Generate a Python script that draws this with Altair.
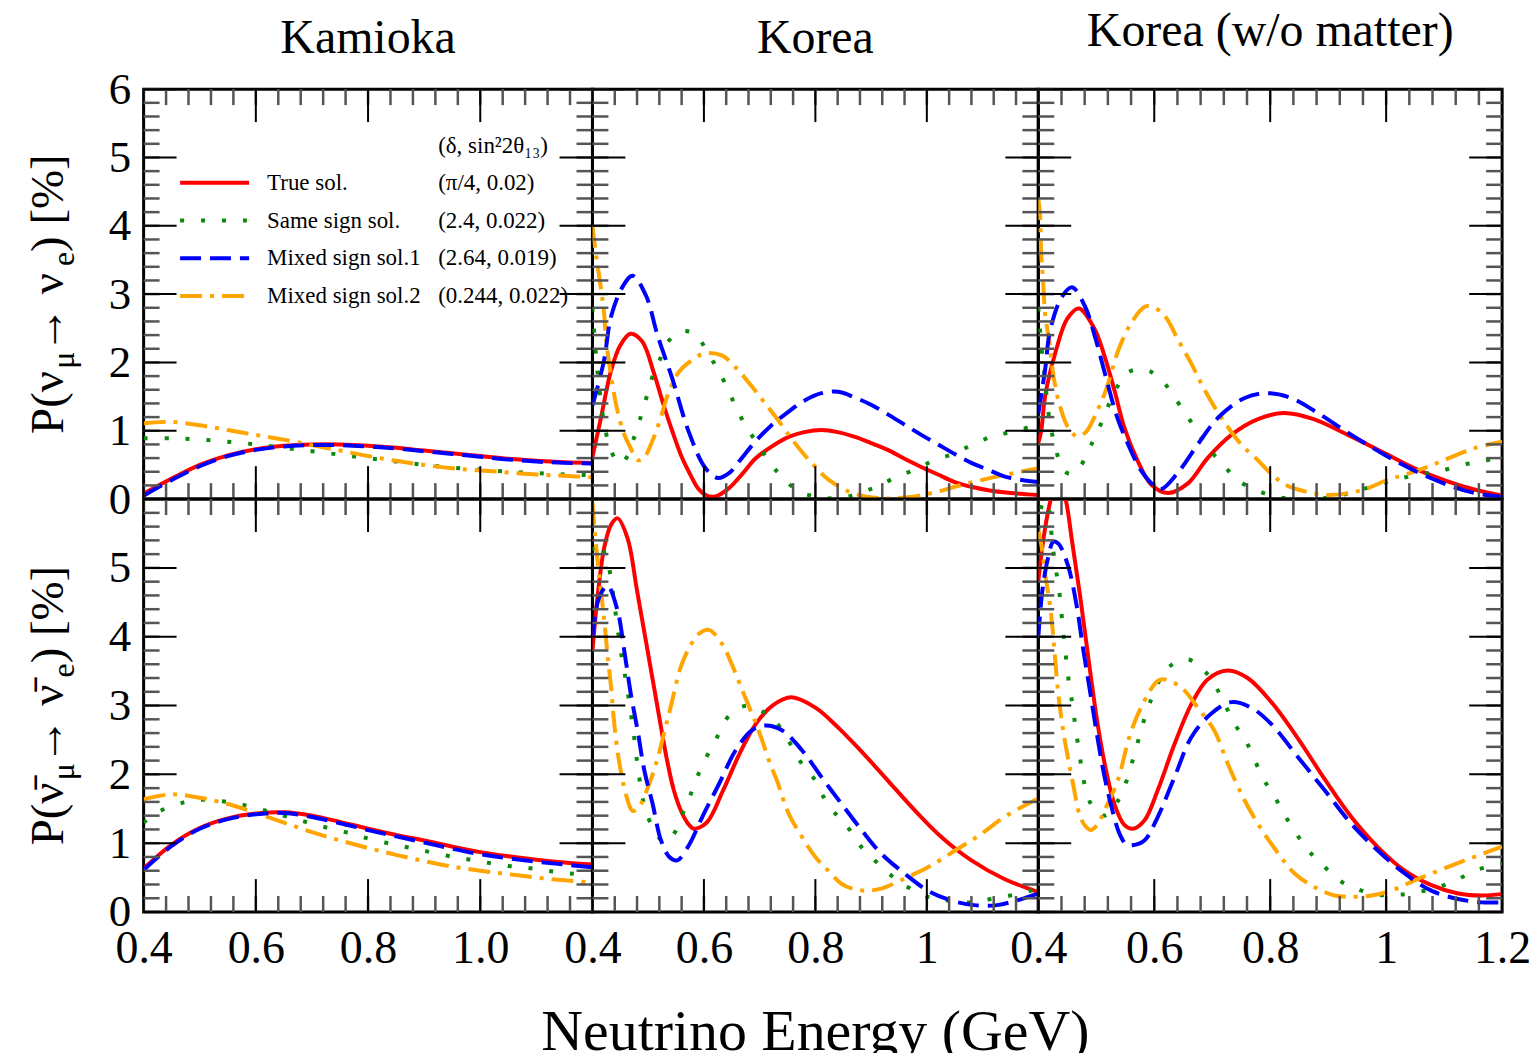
import altair as alt
import pandas as pd

FONT = "Liberation Serif"

COLUMNS = ["Kamioka", "Korea", "Korea (w/o matter)"]
SERIES = ["True sol.", "Same sign sol.", "Mixed sign sol.1", "Mixed sign sol.2"]
PARAMS = ["(π/4, 0.02)", "(2.4, 0.022)", "(2.64, 0.019)", "(0.244, 0.022)"]
PARAM_HEADER = "(δ, sin²2θ₁₃)"
X_TITLE = "Neutrino Energy (GeV)"

# ---- oscillation probabilities: (neutrino energy [GeV], probability [%]) ----
# Kamioka, neutrino
KAM_NU_TRUE = [(0.40, 0.08), (0.45, 0.30), (0.50, 0.50), (0.55, 0.64), (0.60, 0.73), (0.65, 0.78),
               (0.70, 0.80), (0.75, 0.80), (0.80, 0.78), (0.85, 0.75), (0.90, 0.71), (0.95, 0.67),
               (1.00, 0.63), (1.05, 0.59), (1.10, 0.56), (1.15, 0.54), (1.20, 0.53)]
KAM_NU_SAME = [(0.40, 0.89), (0.45, 0.89), (0.50, 0.87), (0.55, 0.84), (0.60, 0.80), (0.65, 0.75),
               (0.70, 0.70), (0.75, 0.65), (0.80, 0.60), (0.85, 0.55), (0.90, 0.50), (0.95, 0.46),
               (1.00, 0.43), (1.05, 0.40), (1.10, 0.38), (1.15, 0.36), (1.20, 0.35)]
KAM_NU_MIX1 = [(0.40, 0.05), (0.45, 0.28), (0.50, 0.48), (0.55, 0.63), (0.60, 0.72), (0.65, 0.77),
               (0.70, 0.79), (0.75, 0.79), (0.80, 0.77), (0.85, 0.74), (0.90, 0.70), (0.95, 0.66),
               (1.00, 0.62), (1.05, 0.58), (1.10, 0.55), (1.15, 0.53), (1.20, 0.52)]
KAM_NU_MIX2 = [(0.40, 1.11), (0.45, 1.13), (0.50, 1.08), (0.55, 1.01), (0.60, 0.94), (0.65, 0.87),
               (0.70, 0.79), (0.75, 0.71), (0.80, 0.63), (0.85, 0.56), (0.90, 0.50), (0.95, 0.45),
               (1.00, 0.42), (1.05, 0.39), (1.10, 0.36), (1.15, 0.34), (1.20, 0.32)]

# Korea, neutrino
KOR_NU_TRUE = [(0.40, 0.62), (0.415, 1.18), (0.433, 1.87), (0.45, 2.25), (0.468, 2.42), (0.489, 2.31),
               (0.51, 1.85), (0.528, 1.37), (0.543, 1.00), (0.56, 0.62), (0.573, 0.40), (0.59, 0.15),
               (0.605, 0.05), (0.621, 0.04), (0.645, 0.16), (0.67, 0.38), (0.692, 0.59), (0.72, 0.76),
               (0.752, 0.91), (0.78, 0.98), (0.811, 1.01), (0.84, 0.98), (0.871, 0.91), (0.90, 0.82),
               (0.93, 0.72), (0.96, 0.59), (0.99, 0.47), (1.02, 0.36), (1.05, 0.25), (1.08, 0.18),
               (1.11, 0.13), (1.15, 0.09), (1.20, 0.06)]
KOR_NU_SAME = [(0.40, 2.80), (0.404, 2.35), (0.408, 1.95), (0.412, 1.65), (0.42, 1.15), (0.429, 0.82),
               (0.44, 0.60), (0.452, 0.52), (0.462, 0.62), (0.472, 0.84), (0.48, 1.02), (0.49, 1.30),
               (0.50, 1.57), (0.51, 1.85), (0.52, 2.02), (0.532, 2.26), (0.55, 2.42), (0.565, 2.46),
               (0.585, 2.41), (0.609, 2.11), (0.627, 1.87), (0.645, 1.57), (0.66, 1.30), (0.678, 1.03),
               (0.698, 0.79), (0.719, 0.52), (0.74, 0.33), (0.77, 0.11), (0.80, 0.04), (0.83, 0.01),
               (0.86, 0.04), (0.89, 0.12), (0.913, 0.19), (0.942, 0.31), (0.978, 0.43), (1.014, 0.57),
               (1.05, 0.67), (1.08, 0.79), (1.115, 0.91), (1.15, 0.98), (1.20, 1.09)]
KOR_NU_MIX1 = [(0.40, 1.37), (0.42, 2.00), (0.434, 2.69), (0.455, 3.12), (0.472, 3.27), (0.496, 2.98),
               (0.517, 2.39), (0.543, 1.77), (0.573, 0.98), (0.603, 0.45), (0.625, 0.31), (0.645, 0.38),
               (0.663, 0.55), (0.692, 0.84), (0.72, 1.07), (0.752, 1.28), (0.78, 1.44), (0.811, 1.55),
               (0.841, 1.57), (0.87, 1.49), (0.90, 1.38), (0.93, 1.24), (0.96, 1.09), (0.99, 0.94),
               (1.02, 0.80), (1.05, 0.66), (1.08, 0.53), (1.11, 0.43), (1.14, 0.33), (1.17, 0.28),
               (1.20, 0.25)]
KOR_NU_MIX2 = [(0.40, 4.00), (0.405, 3.66), (0.414, 3.15), (0.42, 2.79), (0.425, 2.30), (0.434, 1.77),
               (0.443, 1.36), (0.455, 0.99), (0.467, 0.77), (0.482, 0.57), (0.492, 0.60), (0.508, 0.86),
               (0.522, 1.18), (0.537, 1.57), (0.555, 1.86), (0.573, 2.00), (0.60, 2.13), (0.633, 2.10),
               (0.66, 1.90), (0.684, 1.67), (0.708, 1.42), (0.731, 1.18), (0.755, 0.91), (0.776, 0.69),
               (0.80, 0.47), (0.824, 0.28), (0.86, 0.11), (0.889, 0.04), (0.93, 0.01), (0.978, 0.04),
               (1.02, 0.11), (1.05, 0.18), (1.109, 0.30), (1.168, 0.40), (1.20, 0.45)]

# Korea without matter effect, neutrino
KWO_NU_TRUE = [(0.40, 0.82), (0.405, 1.00), (0.412, 1.52), (0.43, 2.16), (0.45, 2.64), (0.47, 2.79),
               (0.497, 2.49), (0.514, 2.10), (0.532, 1.57), (0.549, 1.03), (0.572, 0.55), (0.595, 0.21),
               (0.624, 0.09), (0.658, 0.23), (0.692, 0.60), (0.733, 0.94), (0.779, 1.17), (0.824, 1.26),
               (0.875, 1.17), (0.934, 0.94), (0.991, 0.70), (1.049, 0.45), (1.106, 0.26), (1.152, 0.14),
               (1.20, 0.05)]
KWO_NU_SAME = [(0.40, 2.80), (0.406, 2.18), (0.41, 1.88), (0.413, 1.62), (0.419, 1.18), (0.431, 0.70),
               (0.445, 0.41), (0.458, 0.37), (0.474, 0.50), (0.491, 0.79), (0.506, 1.06), (0.52, 1.35),
               (0.534, 1.61), (0.554, 1.85), (0.575, 1.90), (0.595, 1.86), (0.618, 1.69), (0.638, 1.45),
               (0.658, 1.20), (0.678, 0.94), (0.698, 0.70), (0.721, 0.48), (0.747, 0.26), (0.779, 0.12),
               (0.813, 0.03), (0.848, 0.00), (0.882, 0.00), (0.917, 0.05), (0.951, 0.12), (0.986, 0.22),
               (1.02, 0.29), (1.055, 0.36), (1.089, 0.40), (1.13, 0.50), (1.164, 0.55), (1.20, 0.62)]
KWO_NU_MIX1 = [(0.40, 1.25), (0.412, 1.91), (0.42, 2.45), (0.44, 2.95), (0.458, 3.10), (0.48, 2.83),
               (0.497, 2.40), (0.517, 1.77), (0.536, 1.20), (0.555, 0.80), (0.578, 0.41), (0.601, 0.19),
               (0.613, 0.15), (0.641, 0.39), (0.675, 0.80), (0.71, 1.19), (0.756, 1.48), (0.796, 1.55),
               (0.836, 1.48), (0.882, 1.26), (0.94, 0.94), (0.997, 0.65), (1.055, 0.39), (1.112, 0.19),
               (1.152, 0.09), (1.20, 0.03)]
KWO_NU_MIX2 = [(0.40, 4.40), (0.403, 4.15), (0.405, 3.59), (0.408, 3.23), (0.412, 2.69), (0.419, 2.31),
               (0.426, 1.81), (0.437, 1.37), (0.452, 1.04), (0.467, 0.92), (0.482, 0.98), (0.499, 1.24),
               (0.516, 1.58), (0.539, 2.20), (0.562, 2.60), (0.585, 2.82), (0.605, 2.78), (0.62, 2.66),
               (0.643, 2.30), (0.666, 1.95), (0.683, 1.66), (0.706, 1.32), (0.729, 1.03), (0.752, 0.78),
               (0.775, 0.60), (0.798, 0.40), (0.826, 0.21), (0.861, 0.11), (0.896, 0.06), (0.93, 0.08),
               (0.965, 0.15), (1.005, 0.29), (1.034, 0.36), (1.074, 0.48), (1.108, 0.60), (1.154, 0.75),
               (1.20, 0.84)]

# Kamioka, anti-neutrino
KAM_NB_TRUE = [(0.40, 0.63), (0.45, 0.98), (0.50, 1.22), (0.55, 1.36), (0.60, 1.43), (0.65, 1.45),
               (0.70, 1.40), (0.75, 1.31), (0.80, 1.21), (0.85, 1.12), (0.90, 1.04), (0.95, 0.95),
               (1.00, 0.87), (1.05, 0.81), (1.10, 0.76), (1.15, 0.72), (1.20, 0.69)]
KAM_NB_SAME = [(0.40, 1.30), (0.43, 1.47), (0.47, 1.59), (0.50, 1.63), (0.54, 1.61), (0.575, 1.56),
               (0.61, 1.49), (0.645, 1.41), (0.68, 1.33), (0.72, 1.24), (0.76, 1.16), (0.79, 1.09),
               (0.83, 1.01), (0.865, 0.95), (0.90, 0.89), (0.94, 0.82), (0.975, 0.77), (1.01, 0.72),
               (1.05, 0.67), (1.085, 0.64), (1.12, 0.60), (1.16, 0.56), (1.20, 0.53)]
KAM_NB_MIX1 = [(0.40, 0.61), (0.45, 0.96), (0.50, 1.21), (0.55, 1.35), (0.60, 1.42), (0.65, 1.44),
               (0.70, 1.38), (0.75, 1.29), (0.80, 1.19), (0.85, 1.10), (0.90, 1.01), (0.95, 0.92),
               (1.00, 0.84), (1.05, 0.78), (1.10, 0.73), (1.15, 0.69), (1.20, 0.65)]
KAM_NB_MIX2 = [(0.40, 1.64), (0.45, 1.71), (0.50, 1.66), (0.55, 1.57), (0.60, 1.44), (0.65, 1.30),
               (0.70, 1.16), (0.75, 1.04), (0.80, 0.93), (0.85, 0.83), (0.90, 0.74), (0.95, 0.66),
               (1.00, 0.60), (1.05, 0.55), (1.10, 0.50), (1.15, 0.46), (1.20, 0.43)]

# Korea, anti-neutrino
KOR_NB_TRUE = [(0.40, 3.80), (0.409, 4.57), (0.421, 5.29), (0.433, 5.62), (0.445, 5.72), (0.463, 5.43),
               (0.48, 4.67), (0.498, 3.84), (0.516, 3.01), (0.534, 2.20), (0.546, 1.77), (0.56, 1.45),
               (0.572, 1.28), (0.582, 1.21), (0.605, 1.30), (0.634, 1.76), (0.664, 2.30), (0.693, 2.73),
               (0.723, 3.00), (0.757, 3.12), (0.80, 2.97), (0.841, 2.68), (0.883, 2.33), (0.93, 1.91),
               (0.978, 1.48), (1.026, 1.09), (1.08, 0.75), (1.139, 0.48), (1.20, 0.29)]
KOR_NB_SAME = [(0.40, 5.25), (0.412, 5.38), (0.422, 5.20), (0.429, 5.03), (0.435, 4.74), (0.45, 3.84),
               (0.462, 3.26), (0.473, 2.65), (0.482, 2.07), (0.493, 1.55), (0.51, 1.20), (0.529, 1.02),
               (0.545, 1.12), (0.56, 1.40), (0.57, 1.57), (0.582, 1.84), (0.597, 2.13), (0.621, 2.50),
               (0.648, 2.88), (0.68, 3.00), (0.713, 2.87), (0.737, 2.68), (0.776, 2.15), (0.80, 1.91),
               (0.817, 1.64), (0.841, 1.38), (0.862, 1.19), (0.883, 0.94), (0.909, 0.73), (0.936, 0.53),
               (0.966, 0.36), (1.002, 0.22), (1.034, 0.17), (1.079, 0.14), (1.115, 0.19), (1.15, 0.24),
               (1.186, 0.31), (1.20, 0.33)]
KOR_NB_MIX1 = [(0.40, 3.99), (0.412, 4.57), (0.427, 4.74), (0.445, 4.38), (0.457, 3.80), (0.469, 3.16),
               (0.481, 2.64), (0.493, 2.06), (0.508, 1.57), (0.523, 1.04), (0.538, 0.80), (0.552, 0.75),
               (0.573, 0.97), (0.597, 1.38), (0.627, 1.86), (0.657, 2.35), (0.686, 2.64), (0.71, 2.71),
               (0.74, 2.64), (0.776, 2.35), (0.811, 1.96), (0.847, 1.57), (0.883, 1.19), (0.918, 0.85),
               (0.96, 0.56), (1.002, 0.31), (1.043, 0.17), (1.085, 0.10), (1.126, 0.10), (1.162, 0.17),
               (1.20, 0.27)]
KOR_NB_MIX2 = [(0.40, 5.95), (0.404, 5.54), (0.41, 5.04), (0.416, 4.61), (0.422, 4.17), (0.427, 3.74),
               (0.434, 3.22), (0.438, 2.83), (0.444, 2.39), (0.452, 2.00), (0.461, 1.68), (0.472, 1.47),
               (0.483, 1.52), (0.495, 1.72), (0.514, 2.15), (0.531, 2.68), (0.543, 3.07), (0.558, 3.55),
               (0.577, 3.89), (0.592, 4.05), (0.609, 4.10), (0.633, 3.89), (0.65, 3.60), (0.674, 3.12),
               (0.698, 2.64), (0.719, 2.15), (0.731, 1.91), (0.752, 1.43), (0.776, 1.09), (0.80, 0.80),
               (0.823, 0.60), (0.847, 0.41), (0.866, 0.34), (0.889, 0.31), (0.918, 0.34), (0.966, 0.51),
               (1.002, 0.65), (1.05, 0.89), (1.097, 1.13), (1.139, 1.38), (1.20, 1.65)]

# Korea without matter effect, anti-neutrino
KWO_NB_TRUE = [(0.40, 4.81), (0.411, 5.54), (0.422, 6.01), (0.434, 6.30), (0.447, 6.00), (0.458, 5.40),
               (0.472, 4.60), (0.487, 3.65), (0.502, 2.75), (0.517, 2.05), (0.532, 1.55), (0.548, 1.27),
               (0.563, 1.21), (0.583, 1.33), (0.606, 1.77), (0.635, 2.44), (0.664, 3.02), (0.692, 3.38),
               (0.727, 3.51), (0.761, 3.40), (0.802, 3.05), (0.848, 2.52), (0.894, 1.93), (0.94, 1.38),
               (0.986, 0.94), (1.032, 0.60), (1.078, 0.39), (1.124, 0.27), (1.164, 0.24), (1.20, 0.26)]
KWO_NB_SAME = [(0.40, 5.55), (0.408, 5.95), (0.415, 5.97), (0.421, 5.62), (0.429, 5.04), (0.435, 4.74),
               (0.442, 4.16), (0.446, 3.84), (0.454, 3.26), (0.46, 2.97), (0.464, 2.68), (0.47, 2.36),
               (0.475, 2.07), (0.481, 1.81), (0.49, 1.58), (0.50, 1.45), (0.512, 1.40), (0.523, 1.44),
               (0.537, 1.61), (0.552, 1.90), (0.572, 2.48), (0.592, 3.03), (0.624, 3.55), (0.658, 3.67),
               (0.687, 3.50), (0.707, 3.26), (0.739, 2.73), (0.759, 2.47), (0.788, 1.94), (0.808, 1.67),
               (0.825, 1.41), (0.845, 1.14), (0.865, 0.90), (0.888, 0.71), (0.914, 0.49), (0.945, 0.35),
               (0.986, 0.25), (1.02, 0.25), (1.055, 0.29), (1.089, 0.36), (1.121, 0.46), (1.152, 0.60),
               (1.20, 0.70)]
KWO_NB_MIX1 = [(0.40, 3.99), (0.407, 4.67), (0.417, 5.15), (0.426, 5.38), (0.435, 5.35), (0.451, 5.04),
               (0.466, 4.46), (0.477, 3.84), (0.489, 3.22), (0.50, 2.64), (0.512, 2.06), (0.525, 1.57),
               (0.54, 1.14), (0.552, 0.98), (0.562, 0.97), (0.583, 1.04), (0.606, 1.38), (0.635, 1.96),
               (0.664, 2.54), (0.698, 2.88), (0.733, 3.05), (0.767, 2.97), (0.802, 2.73), (0.848, 2.25),
               (0.894, 1.77), (0.94, 1.28), (0.986, 0.89), (1.032, 0.56), (1.078, 0.31), (1.124, 0.19),
               (1.164, 0.14), (1.20, 0.14)]
KWO_NB_MIX2 = [(0.40, 5.55), (0.405, 5.35), (0.412, 4.90), (0.42, 4.47), (0.425, 4.08), (0.434, 3.21),
               (0.443, 2.63), (0.451, 2.25), (0.46, 1.86), (0.471, 1.42), (0.481, 1.25), (0.491, 1.19),
               (0.502, 1.27), (0.514, 1.47), (0.537, 1.91), (0.557, 2.54), (0.577, 2.97), (0.606, 3.36),
               (0.618, 3.38), (0.647, 3.26), (0.675, 2.97), (0.704, 2.63), (0.727, 2.15), (0.756, 1.62),
               (0.785, 1.20), (0.814, 0.85), (0.842, 0.56), (0.877, 0.36), (0.911, 0.24), (0.94, 0.22),
               (0.975, 0.24), (1.009, 0.31), (1.049, 0.46), (1.09, 0.60), (1.136, 0.75), (1.20, 0.95)]

# ---- styling ----
E_DOMAIN = [0.4, 1.2]
P_DOMAIN = [0, 6]
STYLE = {
    "True sol.": {"color": "#ff0000"},
    "Same sign sol.": {"color": "#0b8a0b", "strokeDash": [4, 17]},
    "Mixed sign sol.1": {"color": "#0000ff", "strokeDash": [21, 9]},
    "Mixed sign sol.2": {"color": "#ffa500", "strokeDash": [22, 8, 4, 8]},
}
DRAW_ORDER = ["True sol.", "Same sign sol.", "Mixed sign sol.2", "Mixed sign sol.1"]
LINE_WIDTH = 4

MINOR_E = [round(0.4 + 0.04 * i, 2) for i in range(21)]
MAJOR_E = [0.4, 0.6, 0.8, 1.0, 1.2]
MINOR_P = [round(0.2 * i, 1) for i in range(31)]
MAJOR_P = [0, 1, 2, 3, 4, 5, 6]
MINOR_LEN, MAJOR_LEN = 16, 33

TOP_H, BOT_H = 411, 414
WIDTHS = [450, 447, 465]

GLYPH_W = {"P": .556, "(": .333, ")": .333, "[": .333, "]": .333, "%": .833, " ": .25,
           "ν": .5, "μ": .5, "→": .85, "e": .444}


def text_width(s, size):
    return sum(GLYPH_W.get(c, 0.0) for c in s) * size


def y_title(pieces, h, base_x=-81):
    """Rotated axis title built from pieces so subscripts can be lowered."""
    total = sum(text_width(t, s) for t, s, _ in pieces)
    y = h / 2 + total / 2
    layers = []
    for t, s, shift in pieces:
        layers.append(
            alt.Chart(pd.DataFrame({"t": [t]}))
            .mark_text(angle=270, align="left", baseline="alphabetic", font=FONT,
                       fontSize=s, color="black")
            .encode(x=alt.value(base_x + shift), y=alt.value(y), text="t:N")
        )
        y -= text_width(t, s)
    return layers


def caption(text, x, y, size):
    return (
        alt.Chart(pd.DataFrame({"t": [text]}))
        .mark_text(align="center", baseline="alphabetic", font=FONT, fontSize=size, color="black")
        .encode(x=alt.value(x), y=alt.value(y), text="t:N")
    )


def panel(curves, w, h, heading=None, x_axis=None, y_axis=None, legend=False, ytitle=None,
          footer=None):
    xs = alt.Scale(domain=E_DOMAIN, nice=False, zero=False)
    ys = alt.Scale(domain=P_DOMAIN, nice=False, zero=False)

    def X(field):
        return alt.X(field, scale=xs, axis=x_axis, title=None)

    def Y(field):
        return alt.Y(field, scale=ys, axis=y_axis, title=None)

    layers = []
    for name in DRAW_ORDER:
        df = pd.DataFrame(curves[name], columns=["E", "P"])
        layers.append(
            alt.Chart(df).mark_line(clip=True, strokeWidth=LINE_WIDTH, interpolate="catmull-rom",
                                    **STYLE[name])
            .encode(x=X("E:Q"), y=Y("P:Q"))
        )

    # inward ticks on all four sides
    for vals, ln, col, sw in [(MINOR_E, MINOR_LEN, "#555555", 2.5), (MAJOR_E, MAJOR_LEN, "#000000", 2)]:
        base = alt.Chart(pd.DataFrame({"tick": vals})).mark_rule(color=col, strokeWidth=sw)
        layers.append(base.encode(x=X("tick:Q"), y=alt.value(h), y2=alt.value(h - ln)))
        layers.append(base.encode(x=X("tick:Q"), y=alt.value(0), y2=alt.value(ln)))
    for vals, ln, col, sw in [(MINOR_P, MINOR_LEN, "#555555", 2.5), (MAJOR_P, MAJOR_LEN, "#000000", 2)]:
        base = alt.Chart(pd.DataFrame({"tick": vals})).mark_rule(color=col, strokeWidth=sw)
        layers.append(base.encode(y=Y("tick:Q"), x=alt.value(0), x2=alt.value(ln)))
        layers.append(base.encode(y=Y("tick:Q"), x=alt.value(w - ln), x2=alt.value(w)))

    if legend:
        row0, step = 4.63, 0.553
        x0, x1, xl, xp = 0.465, 0.588, 0.62, 0.925
        for i, name in enumerate(SERIES):
            yy = row0 - i * step
            seg = pd.DataFrame({"a": [x0], "b": [x1], "y": [yy]})
            layers.append(
                alt.Chart(seg).mark_rule(strokeWidth=LINE_WIDTH, **STYLE[name])
                .encode(x=X("a:Q"), x2="b:Q", y=Y("y:Q"))
            )
            lab = pd.DataFrame({"x": [xl, xp], "y": [yy, yy], "t": [name, PARAMS[i]]})
            layers.append(
                alt.Chart(lab).mark_text(align="left", baseline="middle", font=FONT,
                                         fontSize=23, color="black")
                .encode(x=X("x:Q"), y=Y("y:Q"), text="t:N")
            )
        head = pd.DataFrame({"x": [xp], "y": [5.17], "t": [PARAM_HEADER]})
        layers.append(
            alt.Chart(head).mark_text(align="left", baseline="middle", font=FONT,
                                      fontSize=23, color="black")
            .encode(x=X("x:Q"), y=Y("y:Q"), text="t:N")
        )

    if ytitle:
        layers += y_title(ytitle, h)
    if heading:
        text, lift = heading
        layers.append(caption(text, w / 2, -36 - lift, 48))
    if footer:
        layers.append(caption(footer, w / 2, h + 138, 58))

    return alt.layer(*layers).properties(width=w, height=h)


def y_axis(values):
    return alt.Axis(values=values, format="d", labelFont=FONT, labelFontSize=45,
                    labelColor="black", ticks=False, tickSize=0, domain=False, grid=False,
                    labelPadding=13, title=None)


def x_axis(values, fmt):
    return alt.Axis(values=values, format=fmt, labelFont=FONT, labelFontSize=46,
                    labelColor="black", ticks=False, tickSize=0, domain=False, grid=False,
                    labelPadding=15, labelFlush=False, labelOverlap=False, title=None)


def curves(t, s, m1, m2):
    return dict(zip(SERIES, [t, s, m1, m2]))


NU_TITLE = [("P(ν", 47, 0), ("μ", 32, 11), (" → ν", 47, 0), ("e", 32, 11), (") [%]", 47, 0)]
NB_TITLE = [("P(ν\u0304", 47, 0), ("μ", 32, 11), (" → ν\u0304", 47, 0), ("e", 32, 11), (") [%]", 47, 0)]

a = panel(curves(KAM_NU_TRUE, KAM_NU_SAME, KAM_NU_MIX1, KAM_NU_MIX2), WIDTHS[0], TOP_H,
          heading=(COLUMNS[0], 0), y_axis=y_axis([0, 1, 2, 3, 4, 5, 6]), legend=True,
          ytitle=NU_TITLE)
b = panel(curves(KOR_NU_TRUE, KOR_NU_SAME, KOR_NU_MIX1, KOR_NU_MIX2), WIDTHS[1], TOP_H,
          heading=(COLUMNS[1], 0))
c = panel(curves(KWO_NU_TRUE, KWO_NU_SAME, KWO_NU_MIX1, KWO_NU_MIX2), WIDTHS[2], TOP_H,
          heading=(COLUMNS[2], 7))
d = panel(curves(KAM_NB_TRUE, KAM_NB_SAME, KAM_NB_MIX1, KAM_NB_MIX2), WIDTHS[0], BOT_H,
          x_axis=x_axis([0.4, 0.6, 0.8, 1.0], ".1f"), y_axis=y_axis([0, 1, 2, 3, 4, 5]),
          ytitle=NB_TITLE)
e = panel(curves(KOR_NB_TRUE, KOR_NB_SAME, KOR_NB_MIX1, KOR_NB_MIX2), WIDTHS[1], BOT_H,
          x_axis=x_axis([0.4, 0.6, 0.8, 1.0], "~g"), footer=X_TITLE)
f = panel(curves(KWO_NB_TRUE, KWO_NB_SAME, KWO_NB_MIX1, KWO_NB_MIX2), WIDTHS[2], BOT_H,
          x_axis=x_axis([0.4, 0.6, 0.8, 1.0, 1.2], "~g"))

chart = (
    alt.concat(a, b, c, d, e, f, columns=3, spacing=0, bounds="flush", align="each")
    .properties(
        padding={"left": 23, "top": 5, "right": 5, "bottom": 0},
        background="white",
    )
    .configure_view(stroke="black", strokeWidth=3)
)

chart.save("out.html", embed_options={"renderer": "svg", "actions": False})
